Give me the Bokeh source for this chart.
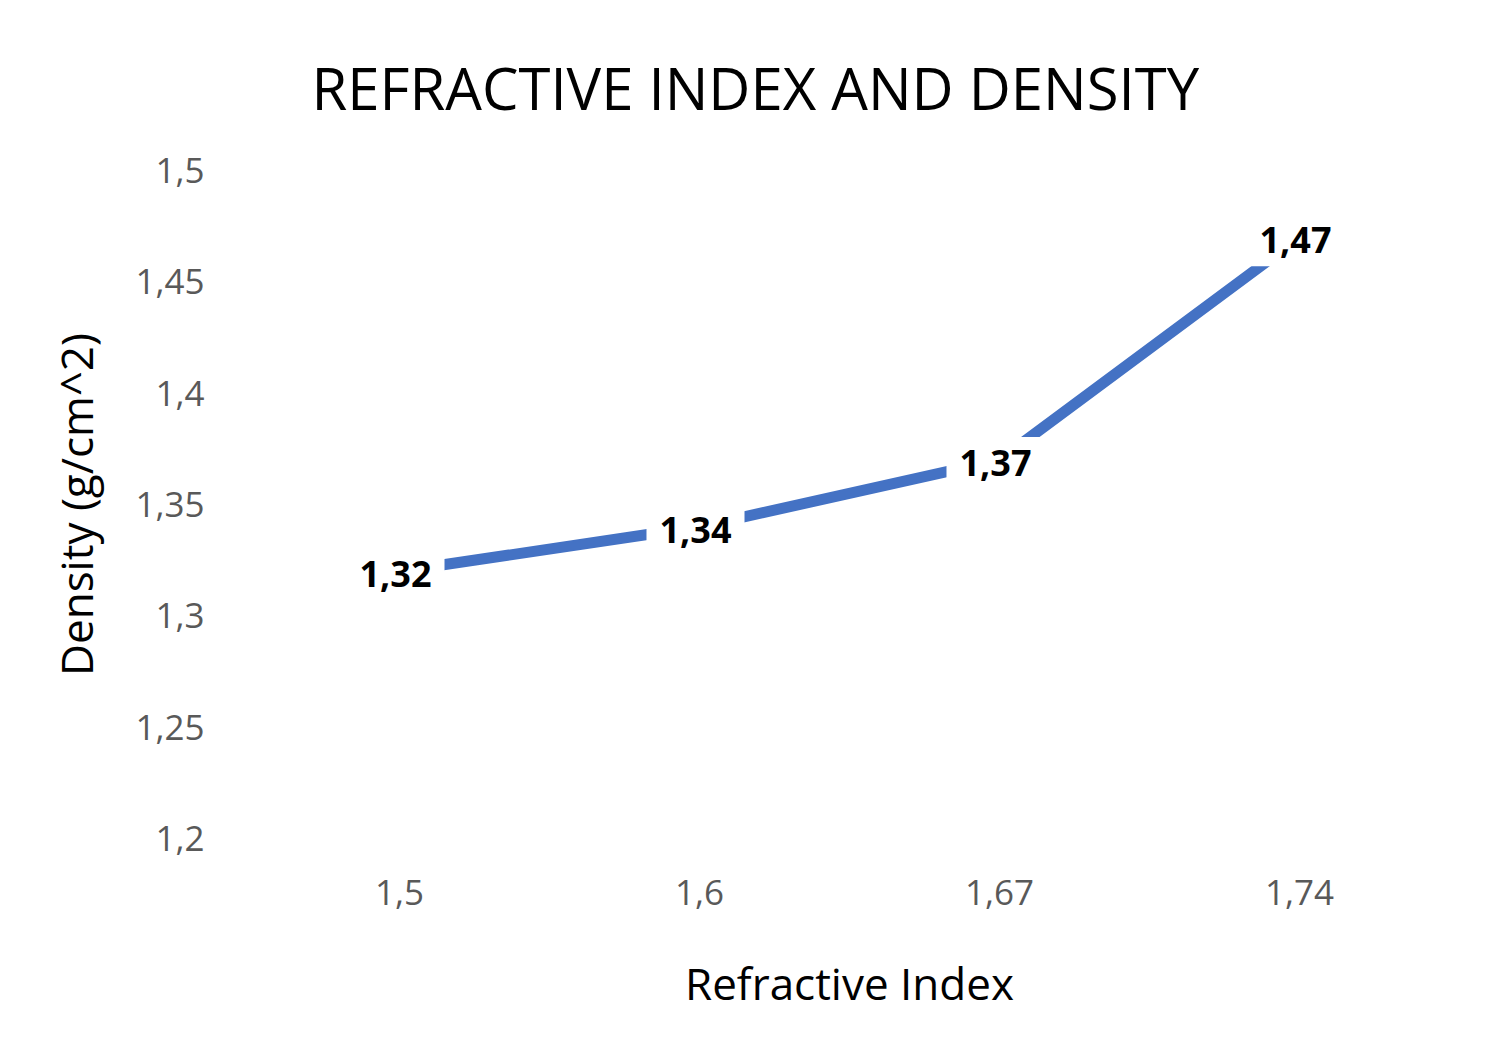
from bokeh.plotting import figure
from bokeh.models import ColumnDataSource, FactorRange, Range1d, FixedTicker
from bokeh.core.properties import value
from bokeh.embed import file_html
from bokeh.resources import INLINE

# Data
categories = ["1,5", "1,6", "1,67", "1,74"]
density = [1.32, 1.34, 1.37, 1.47]
y_ticks = [1.2, 1.25, 1.3, 1.35, 1.4, 1.45, 1.5]
y_tick_labels = ["1,2", "1,25", "1,3", "1,35", "1,4", "1,45", "1,5"]
data_labels = [f"{v:.2f}".replace(".", ",") for v in density]

FONT = "Open Sans"

src = ColumnDataSource(dict(x=categories, y=density, lbl=data_labels))

p = figure(width=1485, height=1022, output_backend="svg", toolbar_location=None,
           x_range=FactorRange(*categories), y_range=Range1d(1.2, 1.5),
           title="REFRACTIVE INDEX AND DENSITY",
           min_border_left=249, min_border_right=36, min_border_top=170, min_border_bottom=184)

p.title.text_font = FONT
p.title.text_font_size = "58px"
p.title.text_font_style = "normal"
p.title.text_color = "#000000"
p.title.align = "left"
p.title.offset = 62
p.title.standoff = 88

p.outline_line_color = None
p.background_fill_color = "white"
p.border_fill_color = "white"
p.xgrid.grid_line_color = None
p.ygrid.grid_line_color = None

p.line("x", "y", source=src, line_color="#4472C4", line_width=11)

p.text(x="x", y="y", text="lbl", source=src,
       text_font=value(FONT), text_font_style="bold", text_font_size="36px",
       text_color="#000000", text_align="center", text_baseline="middle",
       background_fill_color="white", padding=13, y_offset=3, x_offset=-4)

for ax in (p.xaxis[0], p.yaxis[0]):
    ax.axis_line_color = None
    ax.major_tick_line_color = None
    ax.minor_tick_line_color = None
    ax.major_label_text_font = FONT
    ax.major_label_text_font_size = "35px"
    ax.major_label_text_color = "#595959"
    ax.axis_label_text_font = FONT
    ax.axis_label_text_font_size = "44px"
    ax.axis_label_text_font_style = "normal"
    ax.axis_label_text_color = "#000000"

p.yaxis.ticker = FixedTicker(ticks=y_ticks)
p.yaxis.major_label_overrides = dict(zip(y_ticks, y_tick_labels))
p.yaxis.major_label_standoff = 39
p.yaxis.axis_label = "Density (g/cm^2)"
p.yaxis.axis_label_standoff = 26

p.xaxis.axis_label = "Refractive Index"
p.xaxis.major_label_standoff = 35
p.xaxis.axis_label_standoff = 45

open("out.html", "w").write(file_html(p, INLINE))
